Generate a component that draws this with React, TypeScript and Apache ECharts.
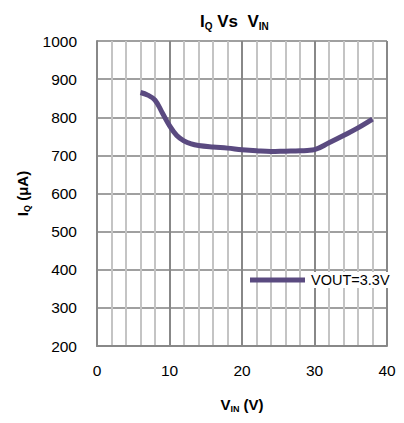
import React, { useEffect, useRef } from "react";
import * as echarts from "echarts";

const vin = [6, 7, 8, 9, 10, 11, 12, 13, 14, 16, 18, 20, 22, 24, 26, 28, 29, 30, 32, 34, 36, 38];
const iq = [865, 858, 845, 812, 778, 752, 738, 730, 726, 722, 719, 715, 712, 710, 711, 712, 713, 715, 733, 752, 772, 795];
const seriesName = "VOUT=3.3V";

const FONT = "'Liberation Sans', Arial, sans-serif";

export default function App() {
  const ref = useRef<HTMLDivElement>(null);
  useEffect(() => {
    const chart = echarts.init(ref.current!, null, { renderer: "svg" });
    chart.setOption({
      animation: false,
      backgroundColor: "#fff",
      textStyle: { fontFamily: FONT },
      title: {
        text: "{a|I}{s|Q}{a| Vs  V}{s|IN}",
        left: 195,
        top: 6,
        textStyle: {
          rich: {
            a: { fontFamily: FONT, fontSize: 17, fontWeight: "bold", color: "#000" },
            s: { fontFamily: FONT, fontSize: 10, fontWeight: "bold", color: "#000", padding: [10, 0, 0, 0] },
          },
        },
      },
      legend: {
        left: 245,
        top: 267,
        icon: "rect",
        itemWidth: 55,
        itemHeight: 5,
        data: [seriesName],
        textStyle: { fontFamily: FONT, fontSize: 14.5, color: "#000", backgroundColor: "#fff", padding: [1, 1, 0, 1] },
      },
      grid: { left: 97, right: 17, top: 41, bottom: 77 },
      xAxis: {
        type: "value",
        min: 0,
        max: 40,
        interval: 10,
        name: "{a|V}{s|IN}{a| (V)}",
        nameLocation: "middle",
        nameGap: 49,
        nameTextStyle: {
          rich: {
            a: { fontFamily: FONT, fontSize: 15, fontWeight: "bold", color: "#000" },
            s: { fontFamily: FONT, fontSize: 9, fontWeight: "bold", color: "#000", padding: [9, 0, 0, 0] },
          },
        },
        axisLine: { show: true, lineStyle: { color: "#888", width: 2 } },
        axisTick: { show: false },
        axisLabel: { fontFamily: FONT, fontSize: 15.5, color: "#000", margin: 16, formatter: (v: number) => String(v) },
        splitLine: { show: true, lineStyle: { color: "#888", width: 2 } },
        minorTick: { show: false, splitNumber: 5 },
        minorSplitLine: { show: true, lineStyle: { color: "#c4c4c4", width: 2 } },
      },
      yAxis: {
        type: "value",
        min: 200,
        max: 1000,
        interval: 100,
        name: "{a|I}{s|Q}{a| (μA)}",
        nameLocation: "middle",
        nameGap: 64,
        nameRotate: 90,
        nameTextStyle: {
          rich: {
            a: { fontFamily: FONT, fontSize: 15, fontWeight: "bold", color: "#000" },
            s: { fontFamily: FONT, fontSize: 9, fontWeight: "bold", color: "#000", padding: [9, 0, 0, 0] },
          },
        },
        axisLine: { show: true, lineStyle: { color: "#888", width: 2 } },
        axisTick: { show: false },
        axisLabel: { fontFamily: FONT, fontSize: 15.5, color: "#000", margin: 20, formatter: (v: number) => String(v) },
        splitLine: { show: true, lineStyle: { color: "#a0a0a0", width: 2 } },
      },
      series: [
        {
          name: seriesName,
          type: "line",
          smooth: 0.4,
          showSymbol: false,
          data: vin.map((v, i) => [v, iq[i]]),
          lineStyle: { color: "#5a4a80", width: 5 },
          itemStyle: { color: "#5a4a80" },
        },
      ],
    });
    return () => chart.dispose();
  }, []);
  return <div ref={ref} style={{ width: 404, height: 423, margin: -8 }} />;
}
